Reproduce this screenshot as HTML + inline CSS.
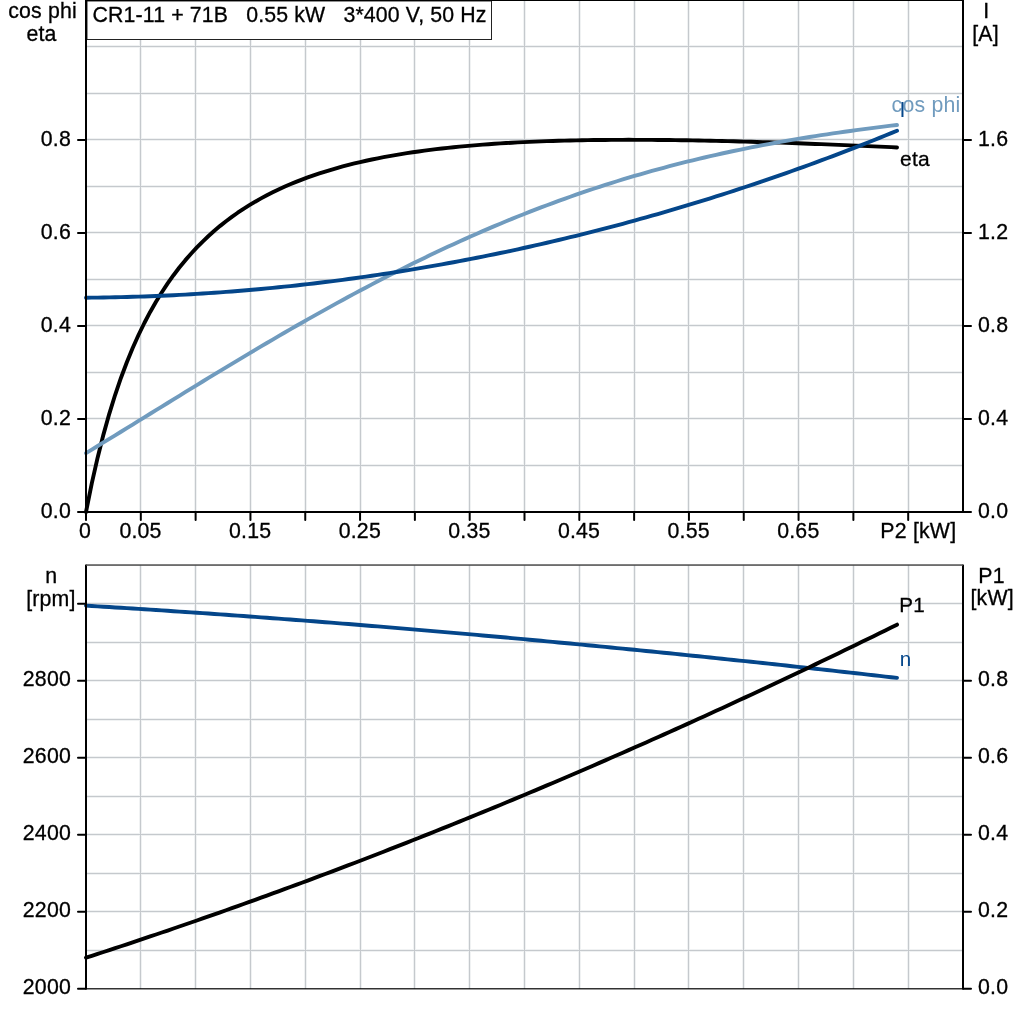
<!DOCTYPE html>
<html lang="en"><head><meta charset="utf-8"><title>CR1-11 + 71B motor curves</title>
<style>html,body{margin:0;padding:0;background:#fff}body{width:1024px;height:1024px;overflow:hidden}svg{display:block}text{white-space:pre}</style>
</head><body>
<svg width="1024" height="1024" viewBox="0 0 1024 1024" font-family="'Liberation Sans', Arial, sans-serif" font-size="21.3px">
<rect width="1024" height="1024" fill="#fff"/>
<g fill="#f0f2f3"><rect x="139" y="0" width="3" height="512"/><rect x="139" y="565" width="3" height="424"/><rect x="194" y="0" width="3" height="512"/><rect x="194" y="565" width="3" height="424"/><rect x="249" y="0" width="3" height="512"/><rect x="249" y="565" width="3" height="424"/><rect x="304" y="0" width="3" height="512"/><rect x="304" y="565" width="3" height="424"/><rect x="359" y="0" width="3" height="512"/><rect x="359" y="565" width="3" height="424"/><rect x="413" y="0" width="3" height="512"/><rect x="413" y="565" width="3" height="424"/><rect x="468" y="0" width="3" height="512"/><rect x="468" y="565" width="3" height="424"/><rect x="523" y="0" width="3" height="512"/><rect x="523" y="565" width="3" height="424"/><rect x="578" y="0" width="3" height="512"/><rect x="578" y="565" width="3" height="424"/><rect x="633" y="0" width="3" height="512"/><rect x="633" y="565" width="3" height="424"/><rect x="687" y="0" width="3" height="512"/><rect x="687" y="565" width="3" height="424"/><rect x="742" y="0" width="3" height="512"/><rect x="742" y="565" width="3" height="424"/><rect x="797" y="0" width="3" height="512"/><rect x="797" y="565" width="3" height="424"/><rect x="852" y="0" width="3" height="512"/><rect x="852" y="565" width="3" height="424"/><rect x="907" y="0" width="3" height="512"/><rect x="907" y="565" width="3" height="424"/><rect x="86" y="464" width="877" height="3"/><rect x="86" y="417" width="877" height="3"/><rect x="86" y="371" width="877" height="3"/><rect x="86" y="324" width="877" height="3"/><rect x="86" y="278" width="877" height="3"/><rect x="86" y="231" width="877" height="3"/><rect x="86" y="185" width="877" height="3"/><rect x="86" y="138" width="877" height="3"/><rect x="86" y="92" width="877" height="3"/><rect x="86" y="45" width="877" height="3"/><rect x="86" y="949" width="877" height="3"/><rect x="86" y="910" width="877" height="3"/><rect x="86" y="872" width="877" height="3"/><rect x="86" y="833" width="877" height="3"/><rect x="86" y="795" width="877" height="3"/><rect x="86" y="756" width="877" height="3"/><rect x="86" y="718" width="877" height="3"/><rect x="86" y="679" width="877" height="3"/><rect x="86" y="641" width="877" height="3"/><rect x="86" y="602" width="877" height="3"/></g>
<g fill="#c5c9cd"><rect x="140" y="0" width="1" height="512"/><rect x="140" y="565" width="1" height="424"/><rect x="195" y="0" width="1" height="512"/><rect x="195" y="565" width="1" height="424"/><rect x="250" y="0" width="1" height="512"/><rect x="250" y="565" width="1" height="424"/><rect x="305" y="0" width="1" height="512"/><rect x="305" y="565" width="1" height="424"/><rect x="360" y="0" width="1" height="512"/><rect x="360" y="565" width="1" height="424"/><rect x="414" y="0" width="1" height="512"/><rect x="414" y="565" width="1" height="424"/><rect x="469" y="0" width="1" height="512"/><rect x="469" y="565" width="1" height="424"/><rect x="524" y="0" width="1" height="512"/><rect x="524" y="565" width="1" height="424"/><rect x="579" y="0" width="1" height="512"/><rect x="579" y="565" width="1" height="424"/><rect x="634" y="0" width="1" height="512"/><rect x="634" y="565" width="1" height="424"/><rect x="688" y="0" width="1" height="512"/><rect x="688" y="565" width="1" height="424"/><rect x="743" y="0" width="1" height="512"/><rect x="743" y="565" width="1" height="424"/><rect x="798" y="0" width="1" height="512"/><rect x="798" y="565" width="1" height="424"/><rect x="853" y="0" width="1" height="512"/><rect x="853" y="565" width="1" height="424"/><rect x="908" y="0" width="1" height="512"/><rect x="908" y="565" width="1" height="424"/><rect x="86" y="465" width="877" height="1"/><rect x="86" y="418" width="877" height="1"/><rect x="86" y="372" width="877" height="1"/><rect x="86" y="325" width="877" height="1"/><rect x="86" y="279" width="877" height="1"/><rect x="86" y="232" width="877" height="1"/><rect x="86" y="186" width="877" height="1"/><rect x="86" y="139" width="877" height="1"/><rect x="86" y="93" width="877" height="1"/><rect x="86" y="46" width="877" height="1"/><rect x="86" y="950" width="877" height="1"/><rect x="86" y="911" width="877" height="1"/><rect x="86" y="873" width="877" height="1"/><rect x="86" y="834" width="877" height="1"/><rect x="86" y="796" width="877" height="1"/><rect x="86" y="757" width="877" height="1"/><rect x="86" y="719" width="877" height="1"/><rect x="86" y="680" width="877" height="1"/><rect x="86" y="642" width="877" height="1"/><rect x="86" y="603" width="877" height="1"/></g>
<rect x="87" y="1" width="404.5" height="38.5" fill="#fff" stroke="#222" stroke-width="1"/>
<g fill="none" stroke-width="3.9" stroke-linecap="round" stroke-linejoin="round">
<path id="eta" stroke="#000" d="M86.00,512.00 L91.83,483.13 L97.67,457.40 L103.50,434.35 L109.34,413.58 L115.17,394.79 L121.01,377.72 L126.84,362.21 L132.68,348.02 L138.51,335.00 L144.35,323.01 L150.18,311.95 L156.01,301.71 L161.85,292.23 L167.68,283.41 L173.52,275.20 L179.35,267.55 L185.19,260.40 L191.02,253.71 L196.86,247.44 L202.69,241.54 L208.53,235.99 L214.36,230.77 L220.19,225.86 L226.03,221.23 L231.86,216.86 L237.70,212.74 L243.53,208.84 L249.37,205.16 L255.20,201.68 L261.04,198.38 L266.87,195.25 L272.71,192.29 L278.54,189.48 L284.37,186.81 L290.21,184.28 L296.04,181.88 L301.88,179.60 L307.71,177.43 L313.55,175.36 L319.38,173.40 L325.22,171.54 L331.05,169.76 L336.88,168.07 L342.72,166.46 L348.55,164.93 L354.39,163.48 L360.22,162.09 L366.06,160.77 L371.89,159.52 L377.73,158.32 L383.56,157.19 L389.40,156.11 L395.23,155.08 L401.06,154.10 L406.90,153.17 L412.73,152.29 L418.57,151.45 L424.40,150.65 L430.24,149.89 L436.07,149.17 L441.91,148.49 L447.74,147.85 L453.58,147.23 L459.41,146.65 L465.24,146.11 L471.08,145.59 L476.91,145.10 L482.75,144.64 L488.58,144.21 L494.42,143.80 L500.25,143.42 L506.09,143.06 L511.92,142.73 L517.76,142.42 L523.59,142.13 L529.42,141.86 L535.26,141.60 L541.09,141.37 L546.93,141.16 L552.76,140.97 L558.60,140.79 L564.43,140.63 L570.27,140.49 L576.10,140.36 L581.94,140.24 L587.77,140.14 L593.60,140.06 L599.44,139.99 L605.27,139.93 L611.11,139.89 L616.94,139.85 L622.78,139.83 L628.61,139.82 L634.45,139.83 L640.28,139.84 L646.12,139.86 L651.95,139.90 L657.78,139.94 L663.62,139.99 L669.45,140.05 L675.29,140.13 L681.12,140.21 L686.96,140.29 L692.79,140.39 L698.63,140.49 L704.46,140.61 L710.29,140.73 L716.13,140.85 L721.96,140.99 L727.80,141.13 L733.63,141.28 L739.47,141.43 L745.30,141.59 L751.14,141.76 L756.97,141.93 L762.81,142.11 L768.64,142.29 L774.47,142.48 L780.31,142.67 L786.14,142.87 L791.98,143.07 L797.81,143.28 L803.65,143.50 L809.48,143.71 L815.32,143.93 L821.15,144.16 L826.99,144.39 L832.82,144.63 L838.65,144.86 L844.49,145.11 L850.32,145.35 L856.16,145.60 L861.99,145.86 L867.83,146.11 L873.66,146.37 L879.50,146.63 L885.33,146.90 L891.17,147.17 L897.00,147.44"/>
<path id="cosphi" stroke="#709bbe" d="M86.00,453.14 L91.83,449.59 L97.67,446.03 L103.50,442.46 L109.34,438.89 L115.17,435.31 L121.01,431.72 L126.84,428.13 L132.68,424.54 L138.51,420.95 L144.35,417.35 L150.18,413.75 L156.01,410.16 L161.85,406.56 L167.68,402.97 L173.52,399.38 L179.35,395.79 L185.19,392.21 L191.02,388.64 L196.86,385.07 L202.69,381.50 L208.53,377.95 L214.36,374.40 L220.19,370.87 L226.03,367.34 L231.86,363.82 L237.70,360.32 L243.53,356.83 L249.37,353.35 L255.20,349.88 L261.04,346.43 L266.87,343.00 L272.71,339.58 L278.54,336.17 L284.37,332.78 L290.21,329.41 L296.04,326.06 L301.88,322.73 L307.71,319.41 L313.55,316.12 L319.38,312.84 L325.22,309.59 L331.05,306.36 L336.88,303.15 L342.72,299.96 L348.55,296.79 L354.39,293.65 L360.22,290.53 L366.06,287.43 L371.89,284.36 L377.73,281.32 L383.56,278.30 L389.40,275.30 L395.23,272.33 L401.06,269.39 L406.90,266.48 L412.73,263.59 L418.57,260.73 L424.40,257.89 L430.24,255.09 L436.07,252.31 L441.91,249.56 L447.74,246.84 L453.58,244.15 L459.41,241.49 L465.24,238.86 L471.08,236.26 L476.91,233.69 L482.75,231.15 L488.58,228.64 L494.42,226.15 L500.25,223.70 L506.09,221.29 L511.92,218.90 L517.76,216.54 L523.59,214.21 L529.42,211.92 L535.26,209.66 L541.09,207.42 L546.93,205.22 L552.76,203.05 L558.60,200.92 L564.43,198.81 L570.27,196.73 L576.10,194.69 L581.94,192.68 L587.77,190.70 L593.60,188.75 L599.44,186.83 L605.27,184.94 L611.11,183.09 L616.94,181.26 L622.78,179.47 L628.61,177.71 L634.45,175.97 L640.28,174.27 L646.12,172.60 L651.95,170.96 L657.78,169.35 L663.62,167.76 L669.45,166.21 L675.29,164.69 L681.12,163.19 L686.96,161.73 L692.79,160.29 L698.63,158.88 L704.46,157.50 L710.29,156.15 L716.13,154.82 L721.96,153.52 L727.80,152.25 L733.63,151.01 L739.47,149.79 L745.30,148.59 L751.14,147.42 L756.97,146.28 L762.81,145.16 L768.64,144.06 L774.47,142.99 L780.31,141.94 L786.14,140.91 L791.98,139.91 L797.81,138.92 L803.65,137.96 L809.48,137.02 L815.32,136.10 L821.15,135.19 L826.99,134.31 L832.82,133.44 L838.65,132.60 L844.49,131.77 L850.32,130.95 L856.16,130.16 L861.99,129.37 L867.83,128.61 L873.66,127.85 L879.50,127.11 L885.33,126.39 L891.17,125.67 L897.00,124.97"/>
<path id="cur" stroke="#04468a" d="M86.00,297.70 L91.83,297.65 L97.67,297.58 L103.50,297.49 L109.34,297.39 L115.17,297.28 L121.01,297.14 L126.84,296.99 L132.68,296.82 L138.51,296.64 L144.35,296.44 L150.18,296.22 L156.01,295.99 L161.85,295.74 L167.68,295.47 L173.52,295.19 L179.35,294.89 L185.19,294.58 L191.02,294.24 L196.86,293.89 L202.69,293.53 L208.53,293.15 L214.36,292.75 L220.19,292.33 L226.03,291.90 L231.86,291.45 L237.70,290.99 L243.53,290.51 L249.37,290.01 L255.20,289.50 L261.04,288.96 L266.87,288.42 L272.71,287.85 L278.54,287.27 L284.37,286.68 L290.21,286.07 L296.04,285.44 L301.88,284.79 L307.71,284.13 L313.55,283.45 L319.38,282.75 L325.22,282.04 L331.05,281.32 L336.88,280.57 L342.72,279.81 L348.55,279.03 L354.39,278.24 L360.22,277.43 L366.06,276.60 L371.89,275.76 L377.73,274.90 L383.56,274.02 L389.40,273.13 L395.23,272.22 L401.06,271.29 L406.90,270.35 L412.73,269.39 L418.57,268.42 L424.40,267.42 L430.24,266.42 L436.07,265.39 L441.91,264.35 L447.74,263.29 L453.58,262.22 L459.41,261.12 L465.24,260.02 L471.08,258.89 L476.91,257.75 L482.75,256.59 L488.58,255.42 L494.42,254.23 L500.25,253.02 L506.09,251.79 L511.92,250.55 L517.76,249.29 L523.59,248.02 L529.42,246.73 L535.26,245.42 L541.09,244.09 L546.93,242.75 L552.76,241.39 L558.60,240.02 L564.43,238.63 L570.27,237.22 L576.10,235.79 L581.94,234.35 L587.77,232.89 L593.60,231.41 L599.44,229.92 L605.27,228.41 L611.11,226.88 L616.94,225.34 L622.78,223.78 L628.61,222.20 L634.45,220.60 L640.28,218.99 L646.12,217.36 L651.95,215.71 L657.78,214.05 L663.62,212.37 L669.45,210.67 L675.29,208.96 L681.12,207.22 L686.96,205.47 L692.79,203.71 L698.63,201.92 L704.46,200.12 L710.29,198.30 L716.13,196.47 L721.96,194.61 L727.80,192.74 L733.63,190.85 L739.47,188.95 L745.30,187.02 L751.14,185.08 L756.97,183.12 L762.81,181.15 L768.64,179.16 L774.47,177.14 L780.31,175.12 L786.14,173.07 L791.98,171.01 L797.81,168.92 L803.65,166.82 L809.48,164.71 L815.32,162.57 L821.15,160.42 L826.99,158.25 L832.82,156.06 L838.65,153.85 L844.49,151.63 L850.32,149.39 L856.16,147.12 L861.99,144.85 L867.83,142.55 L873.66,140.23 L879.50,137.90 L885.33,135.55 L891.17,133.18 L897.00,130.79"/>
<path id="n" stroke="#04468a" d="M86.00,605.65 L91.83,606.00 L97.67,606.35 L103.50,606.71 L109.34,607.07 L115.17,607.43 L121.01,607.79 L126.84,608.16 L132.68,608.53 L138.51,608.90 L144.35,609.27 L150.18,609.65 L156.01,610.03 L161.85,610.41 L167.68,610.80 L173.52,611.18 L179.35,611.58 L185.19,611.97 L191.02,612.37 L196.86,612.76 L202.69,613.17 L208.53,613.57 L214.36,613.98 L220.19,614.39 L226.03,614.80 L231.86,615.21 L237.70,615.63 L243.53,616.05 L249.37,616.47 L255.20,616.90 L261.04,617.33 L266.87,617.76 L272.71,618.19 L278.54,618.63 L284.37,619.07 L290.21,619.51 L296.04,619.95 L301.88,620.40 L307.71,620.85 L313.55,621.30 L319.38,621.75 L325.22,622.21 L331.05,622.67 L336.88,623.13 L342.72,623.59 L348.55,624.06 L354.39,624.53 L360.22,625.00 L366.06,625.47 L371.89,625.95 L377.73,626.43 L383.56,626.91 L389.40,627.39 L395.23,627.88 L401.06,628.36 L406.90,628.86 L412.73,629.35 L418.57,629.84 L424.40,630.34 L430.24,630.84 L436.07,631.35 L441.91,631.85 L447.74,632.36 L453.58,632.87 L459.41,633.38 L465.24,633.89 L471.08,634.41 L476.91,634.93 L482.75,635.45 L488.58,635.98 L494.42,636.50 L500.25,637.03 L506.09,637.56 L511.92,638.09 L517.76,638.63 L523.59,639.17 L529.42,639.71 L535.26,640.25 L541.09,640.79 L546.93,641.34 L552.76,641.89 L558.60,642.44 L564.43,642.99 L570.27,643.55 L576.10,644.10 L581.94,644.66 L587.77,645.23 L593.60,645.79 L599.44,646.36 L605.27,646.92 L611.11,647.49 L616.94,648.07 L622.78,648.64 L628.61,649.22 L634.45,649.80 L640.28,650.38 L646.12,650.96 L651.95,651.55 L657.78,652.13 L663.62,652.72 L669.45,653.31 L675.29,653.91 L681.12,654.50 L686.96,655.10 L692.79,655.70 L698.63,656.30 L704.46,656.90 L710.29,657.51 L716.13,658.12 L721.96,658.73 L727.80,659.34 L733.63,659.95 L739.47,660.57 L745.30,661.18 L751.14,661.80 L756.97,662.42 L762.81,663.05 L768.64,663.67 L774.47,664.30 L780.31,664.93 L786.14,665.56 L791.98,666.19 L797.81,666.83 L803.65,667.46 L809.48,668.10 L815.32,668.74 L821.15,669.38 L826.99,670.03 L832.82,670.67 L838.65,671.32 L844.49,671.97 L850.32,672.62 L856.16,673.28 L861.99,673.93 L867.83,674.59 L873.66,675.25 L879.50,675.91 L885.33,676.57 L891.17,677.23 L897.00,677.90"/>
<path id="p1" stroke="#000" d="M86.00,957.68 L91.83,955.79 L97.67,953.90 L103.50,951.99 L109.34,950.08 L115.17,948.16 L121.01,946.23 L126.84,944.29 L132.68,942.35 L138.51,940.40 L144.35,938.44 L150.18,936.47 L156.01,934.50 L161.85,932.52 L167.68,930.53 L173.52,928.53 L179.35,926.53 L185.19,924.52 L191.02,922.50 L196.86,920.47 L202.69,918.44 L208.53,916.40 L214.36,914.35 L220.19,912.29 L226.03,910.23 L231.86,908.16 L237.70,906.08 L243.53,903.99 L249.37,901.90 L255.20,899.80 L261.04,897.69 L266.87,895.57 L272.71,893.45 L278.54,891.32 L284.37,889.18 L290.21,887.04 L296.04,884.88 L301.88,882.72 L307.71,880.56 L313.55,878.38 L319.38,876.20 L325.22,874.01 L331.05,871.81 L336.88,869.61 L342.72,867.40 L348.55,865.18 L354.39,862.95 L360.22,860.72 L366.06,858.48 L371.89,856.23 L377.73,853.97 L383.56,851.71 L389.40,849.44 L395.23,847.16 L401.06,844.88 L406.90,842.59 L412.73,840.29 L418.57,837.98 L424.40,835.67 L430.24,833.34 L436.07,831.02 L441.91,828.68 L447.74,826.34 L453.58,823.99 L459.41,821.63 L465.24,819.26 L471.08,816.89 L476.91,814.51 L482.75,812.13 L488.58,809.73 L494.42,807.33 L500.25,804.93 L506.09,802.51 L511.92,800.09 L517.76,797.66 L523.59,795.22 L529.42,792.78 L535.26,790.33 L541.09,787.87 L546.93,785.40 L552.76,782.93 L558.60,780.45 L564.43,777.97 L570.27,775.47 L576.10,772.97 L581.94,770.46 L587.77,767.95 L593.60,765.43 L599.44,762.90 L605.27,760.36 L611.11,757.82 L616.94,755.27 L622.78,752.71 L628.61,750.15 L634.45,747.57 L640.28,744.99 L646.12,742.41 L651.95,739.82 L657.78,737.22 L663.62,734.61 L669.45,732.00 L675.29,729.37 L681.12,726.75 L686.96,724.11 L692.79,721.47 L698.63,718.82 L704.46,716.16 L710.29,713.50 L716.13,710.83 L721.96,708.16 L727.80,705.47 L733.63,702.78 L739.47,700.08 L745.30,697.38 L751.14,694.67 L756.97,691.95 L762.81,689.22 L768.64,686.49 L774.47,683.75 L780.31,681.00 L786.14,678.25 L791.98,675.49 L797.81,672.72 L803.65,669.95 L809.48,667.17 L815.32,664.38 L821.15,661.59 L826.99,658.79 L832.82,655.98 L838.65,653.16 L844.49,650.34 L850.32,647.51 L856.16,644.68 L861.99,641.83 L867.83,638.98 L873.66,636.13 L879.50,633.26 L885.33,630.40 L891.17,627.52 L897.00,624.64"/>
</g>
<g fill="#000"><rect x="85" y="0" width="2" height="513"/><rect x="962" y="0" width="2" height="513"/><rect x="85" y="511" width="879" height="2"/><rect x="85" y="0" width="879" height="1"/><rect x="85" y="564.6" width="2" height="424.5"/><rect x="962" y="564.6" width="2" height="424.5"/><rect x="85" y="988.2" width="879" height="1.2"/></g>
<rect x="86" y="564.3" width="877" height="1.5" fill="#4a4a4a"/>
<g stroke="#000" stroke-width="2" stroke-linecap="round"><line x1="78" y1="512.0" x2="86" y2="512.0"/><line x1="963" y1="512.0" x2="971" y2="512.0"/><line x1="78" y1="419.0" x2="86" y2="419.0"/><line x1="963" y1="419.0" x2="971" y2="419.0"/><line x1="78" y1="326.0" x2="86" y2="326.0"/><line x1="963" y1="326.0" x2="971" y2="326.0"/><line x1="78" y1="233.0" x2="86" y2="233.0"/><line x1="963" y1="233.0" x2="971" y2="233.0"/><line x1="78" y1="140.0" x2="86" y2="140.0"/><line x1="963" y1="140.0" x2="971" y2="140.0"/><line x1="86.00" y1="512" x2="86.00" y2="520"/><line x1="140.81" y1="512" x2="140.81" y2="520"/><line x1="195.62" y1="512" x2="195.62" y2="520"/><line x1="250.44" y1="512" x2="250.44" y2="520"/><line x1="305.25" y1="512" x2="305.25" y2="520"/><line x1="360.06" y1="512" x2="360.06" y2="520"/><line x1="414.88" y1="512" x2="414.88" y2="520"/><line x1="469.69" y1="512" x2="469.69" y2="520"/><line x1="524.50" y1="512" x2="524.50" y2="520"/><line x1="579.31" y1="512" x2="579.31" y2="520"/><line x1="634.12" y1="512" x2="634.12" y2="520"/><line x1="688.94" y1="512" x2="688.94" y2="520"/><line x1="743.75" y1="512" x2="743.75" y2="520"/><line x1="798.56" y1="512" x2="798.56" y2="520"/><line x1="853.38" y1="512" x2="853.38" y2="520"/><line x1="908.19" y1="512" x2="908.19" y2="520"/><line x1="78" y1="988.8" x2="86" y2="988.8"/><line x1="963" y1="988.8" x2="971" y2="988.8"/><line x1="78" y1="911.8" x2="86" y2="911.8"/><line x1="963" y1="911.8" x2="971" y2="911.8"/><line x1="78" y1="834.8" x2="86" y2="834.8"/><line x1="963" y1="834.8" x2="971" y2="834.8"/><line x1="78" y1="757.8" x2="86" y2="757.8"/><line x1="963" y1="757.8" x2="971" y2="757.8"/><line x1="78" y1="680.8" x2="86" y2="680.8"/><line x1="963" y1="680.8" x2="971" y2="680.8"/><line x1="78" y1="603.8" x2="86" y2="603.8"/></g>
<g fill="#000" stroke="#000" stroke-width="0.3" letter-spacing="0.2"><text x="71" y="517.5" text-anchor="end">0.0</text><text x="71" y="424.5" text-anchor="end">0.2</text><text x="71" y="331.5" text-anchor="end">0.4</text><text x="71" y="238.5" text-anchor="end">0.6</text><text x="71" y="145.5" text-anchor="end">0.8</text><text x="978" y="517.5" text-anchor="start">0.0</text><text x="978" y="424.5" text-anchor="start">0.4</text><text x="978" y="331.5" text-anchor="start">0.8</text><text x="978" y="238.5" text-anchor="start">1.2</text><text x="978" y="145.5" text-anchor="start">1.6</text><text x="85.0" y="537.6" text-anchor="middle">0</text><text x="140.5" y="537.6" text-anchor="middle">0.05</text><text x="250.1" y="537.6" text-anchor="middle">0.15</text><text x="359.8" y="537.6" text-anchor="middle">0.25</text><text x="469.4" y="537.6" text-anchor="middle">0.35</text><text x="579.0" y="537.6" text-anchor="middle">0.45</text><text x="688.6" y="537.6" text-anchor="middle">0.55</text><text x="798.3" y="537.6" text-anchor="middle">0.65</text><text x="918.3" y="537.6" text-anchor="middle">P2 [kW]</text><text x="71" y="994.3" text-anchor="end">2000</text><text x="71" y="917.3" text-anchor="end">2200</text><text x="71" y="840.3" text-anchor="end">2400</text><text x="71" y="763.3" text-anchor="end">2600</text><text x="71" y="686.3" text-anchor="end">2800</text><text x="978" y="994.3" text-anchor="start">0.0</text><text x="978" y="917.3" text-anchor="start">0.2</text><text x="978" y="840.3" text-anchor="start">0.4</text><text x="978" y="763.3" text-anchor="start">0.6</text><text x="978" y="686.3" text-anchor="start">0.8</text><text x="42.6" y="17.7" text-anchor="middle">cos phi</text><text x="41.5" y="40.8" text-anchor="middle">eta</text><text x="986.2" y="17.8" text-anchor="middle">I</text><text x="985.5" y="40.8" text-anchor="middle">[A]</text><text x="51.2" y="582.8" text-anchor="middle">n</text><text x="50.9" y="605.6" text-anchor="middle">[rpm]</text><text x="991.5" y="582.7" text-anchor="middle">P1</text><text x="992.2" y="605.3" text-anchor="middle">[kW]</text><text x="92.6" y="21.9" text-anchor="start" xml:space="preserve" letter-spacing="0.13">CR1-11 + 71B   0.55 kW   3*400 V, 50 Hz</text><text x="891.6" y="112.3" text-anchor="start" fill="#709bbe" stroke="none">cos phi</text><text x="899.5" y="117.3" text-anchor="start" fill="#04468a" stroke="none">I</text><text x="900" y="165.6" text-anchor="start" font-size="21px">eta</text><text x="899.3" y="611.7" text-anchor="start" font-size="20.6px">P1</text><text x="899.8" y="665.8" text-anchor="start" fill="#04468a" stroke="none" font-size="20.6px">n</text></g>
</svg>
</body></html>
